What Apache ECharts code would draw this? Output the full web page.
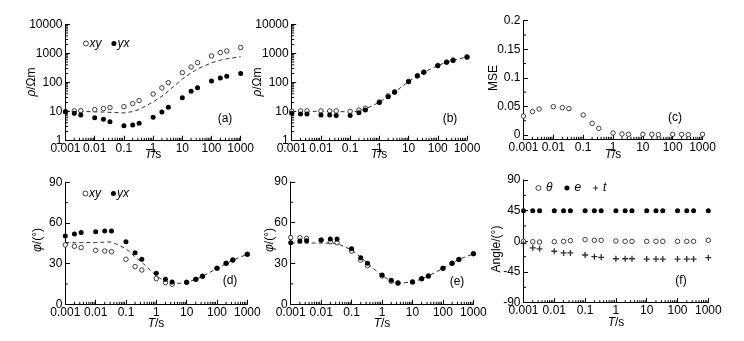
<!DOCTYPE html>
<html><head><meta charset="utf-8">
<script src="https://cdn.jsdelivr.net/npm/echarts@6/dist/echarts.min.js"></script>
<style>html,body{margin:0;padding:0;background:#fff}#c{width:744px;height:341px}</style>
</head><body><div id="c"></div>
<script>
// ---------- data ----------
const periods = [0.001,0.002,0.00333,0.01,0.02,0.0333,0.1,0.2,0.333,1,2,3.33,10,20,33.3,100,200,333,1000];
const xTickLabels = ['0.001','0.01','0.1','1','10','100','1000'];
const rhoTickLabels = ['1','10','100','1000','10000'];
const mseTicks = [0,0.05,0.1,0.15,0.2];
const mseTickLabels = ['0','0.05','0.1','0.15','0.2'];
const panelLabels = ['(a)','(b)','(c)','(d)','(e)','(f)'];
const yTitles = ['{i|ρ}/Ωm','{i|ρ}/Ωm','MSE','{i|φ}/(°)','{i|φ}/(°)','Angle/(°)'];
const xTitle = '{i|T}/s';
const legendRho = ['xy','yx'];
const legendAngle = ['θ','e','t'];

// (a) apparent resistivity
const rhoXyA = [9.7,10.3,10.5,11.4,12.4,13.4,14.5,18.4,23.4,39.5,64,97,215,337,476,810,1060,1200,1580];
const rhoYxA = [9.7,8.5,7.5,6.0,5.3,4.4,3.2,3.4,3.9,6.2,9.5,13.8,29.5,49,65,111,140,161,203];
const rhoModelA = [10,10,10,9.6,9.4,9.2,8.8,9.8,11.5,21,33,50,130,210,290,470,580,640,760];
// (b) resistivity after correction
const rhoXyB = [10,10.3,10.3,10.3,10.3,10.3,10,11,12.7,21,34,47,108,170,225,380,500,590,760];
const rhoYxB = [8.5,8.1,8.1,7.5,7.5,7.1,7.1,9,11,20,32,45,105,165,220,375,490,570,730];
const rhoModelB = [10,10,10,10,10,10,9.4,10.2,12,20.5,33,46,106,167,222,378,495,580,745];
// (c) MSE
const mse = [0.033,0.041,0.0455,0.0496,0.0478,0.0461,0.035,0.0204,0.0117,0.0035,0.0017,0.0012,0.0012,0.0012,0.0006,0.0012,0.0012,0.0006,0.0012];
// (d) phase
const phXyD = [43.8,42.8,41.8,39.8,39.3,38.8,33.2,27.8,25.3,18.9,16.0,14.8,16.2,18.4,20.7,26.6,30.2,32.7,36.9];
const phYxD = [50.4,51.9,52.9,53.6,54.1,54.1,46.2,38.1,33.2,22.9,18.4,16.5,16.2,18.4,20.7,26.6,30.2,32.7,36.9];
const phModelD = [45.5,45.5,45.5,45.6,45.8,46,41,35,31,21,16.5,15,16,18.5,20.5,26.5,30,32.5,37];
// (e) phase after correction
const phXyE = [49.1,48.9,48.4,47.2,46,45.2,39.1,32.5,28.4,20.8,16.9,15.4,16.4,18.8,20.8,26.4,30.1,33.0,37.2];
const phYxE = [45.2,46.5,46.7,47.2,47.9,47.9,40.8,34.2,30.1,21.5,17.6,15.9,16.4,18.8,20.8,26.4,30.1,33.0,37.2];
const phModelE = [45,45,45,45,44.9,44.7,40,34.5,30,21,17,15.5,16.3,18.7,20.8,26.4,30,33,37];
// (f) decomposition angles
const angTheta = [0,-0.5,-1,-0.5,0,1,2.5,1.5,1.5,0.5,0,0,0,0,0,0,0,0,1.5];
const angE = [45,45,45,45,45,45,45,45,45,45,45,45,45,45,45,45,45,45,45];
const angT = [-3,-9.5,-11,-14.5,-17,-17,-20,-22.5,-23.5,-25.5,-25.5,-25.5,-26,-26,-26,-26,-26,-26,-24];

// ---------- helpers ----------
const FONT = 'Liberation Sans, Arial, sans-serif';
const pair = (ys) => periods.map((t, i) => [t, ys[i]]);
function logMinor(e0, e1) { const r = []; for (let e = e0; e < e1; e++) for (let k = 2; k <= 9; k++) r.push(+(k * Math.pow(10, e)).toPrecision(3)); return r; }
function linMinor(a, b, step, major) { const r = []; for (let v = a; v <= b + 1e-9; v += step) { if (Math.abs((v - a) / major - Math.round((v - a) / major)) > 1e-6) r.push(+v.toFixed(6)); } return r; }

const grids = [
  {left: 65.5, top: 24.3, width: 175.2, height: 116},
  {left: 291.7, top: 24.3, width: 175.3, height: 116},
  {left: 523.5, top: 20.7, width: 179, height: 118.6},
  {left: 65.3, top: 182.3, width: 182, height: 122},
  {left: 290.7, top: 181.8, width: 182.7, height: 122.5},
  {left: 523.5, top: 180, width: 184.8, height: 122.7}
];
// title centres
const yTitlePos = [[32, 82], [258, 82], [494, 78], [38, 240], [270, 240], [497, 249]];
const xTitlePos = [[153, 155], [379, 155], [613, 155], [156, 323.5], [382, 323.5], [616, 322.5]];
const panelLabelPos = [[225, 119], [450, 119], [675, 118], [230, 281], [457, 282], [681, 281]];

const axisBase = {
  axisLine: {show: true, onZero: false, lineStyle: {color: '#000', width: 1}},
  axisTick: {show: true, inside: true, length: 4.5, lineStyle: {color: '#000', width: 1}},
  splitLine: {show: false},
  axisLabel: {color: '#000', fontSize: 12, fontFamily: FONT}
};

function xLog(gi) {
  return Object.assign({}, axisBase, {
    type: 'log', logBase: 10, gridIndex: gi, min: 0.001, max: 1000, splitNumber: 6,
    axisLabel: Object.assign({}, axisBase.axisLabel, {margin: 2,
      formatter: v => xTickLabels[Math.round(Math.log10(v)) + 3] || ''})
  });
}
function yAxisOf(gi, opts) {
  return Object.assign({}, axisBase, {gridIndex: gi}, opts,
    {axisLabel: Object.assign({}, axisBase.axisLabel, {margin: 3}, opts.axisLabel || {})});
}

function tickSeries(gi, axis, values, ref, len) {
  return {
    type: 'custom', xAxisIndex: gi, yAxisIndex: gi, silent: true, clip: false, z: 3,
    encode: {x: 0, y: 1},
    data: values.map(v => axis === 'x' ? [v, ref] : [ref, v]),
    renderItem: function (params, api) {
      const cs = params.coordSys;
      const p = api.coord([api.value(0), api.value(1)]);
      let shape;
      if (axis === 'x') { const y0 = cs.y + cs.height; shape = {x1: p[0], y1: y0, x2: p[0], y2: y0 - len}; }
      else { const x0 = cs.x; shape = {x1: x0, y1: p[1], x2: x0 + len, y2: p[1]}; }
      return {type: 'line', shape: shape, style: {stroke: '#000', lineWidth: 1}};
    }
  };
}

const openSym = (gi, name, ys) => ({type: 'scatter', name: name, xAxisIndex: gi, yAxisIndex: gi, data: pair(ys),
  symbol: 'circle', symbolSize: 4.5, itemStyle: {color: '#fff', borderColor: '#111', borderWidth: 0.8, opacity: 1}, z: 4});
const fillSym = (gi, name, ys) => ({type: 'scatter', name: name, xAxisIndex: gi, yAxisIndex: gi, data: pair(ys),
  symbol: 'circle', symbolSize: 5, itemStyle: {color: '#000', opacity: 1}, z: 5});
const model = (gi, ys) => ({type: 'line', name: 'model', xAxisIndex: gi, yAxisIndex: gi, data: pair(ys),
  showSymbol: false, symbol: 'none', lineStyle: {color: '#333', width: 1, type: [4, 3]}, z: 3});
const plusPath = 'path://M3.9,0L6.1,0L6.1,3.9L10,3.9L10,6.1L6.1,6.1L6.1,10L3.9,10L3.9,6.1L0,6.1L0,3.9L3.9,3.9Z';

const xMinor = logMinor(-3, 3);
const rhoMinor = logMinor(0, 4);
const legendTextTight = {fontSize: 12, fontStyle: 'italic', fontFamily: FONT, color: '#000', padding: [0, 0, 0, -4]};
const legendText = {fontSize: 12, fontStyle: 'italic', fontFamily: FONT, color: '#000'};
const legendItems = (names) => names.map(n => ({name: n, itemStyle: {borderWidth: 0.8}}));
const richI = {i: {fontStyle: 'italic', fontSize: 12, fontFamily: FONT, fill: '#000'}};

const graphics = [];
panelLabelPos.forEach((p, i) => graphics.push({type: 'text', x: p[0], y: p[1], z: 10,
  style: {text: panelLabels[i], fill: '#000', font: '12px ' + FONT, textAlign: 'center', textVerticalAlign: 'middle'}}));
yTitlePos.forEach((p, i) => graphics.push({type: 'text', x: p[0], y: p[1], rotation: Math.PI / 2, z: 10,
  style: {text: yTitles[i], fill: '#000', font: '12px ' + FONT, textAlign: 'center', textVerticalAlign: 'middle', rich: richI}}));
xTitlePos.forEach((p) => graphics.push({type: 'text', x: p[0], y: p[1], z: 10,
  style: {text: xTitle, fill: '#000', font: '12px ' + FONT, textAlign: 'center', textVerticalAlign: 'middle', rich: richI}}));

const option = {
  animation: false,
  backgroundColor: '#fff',
  textStyle: {fontFamily: FONT},
  grid: grids.map(g => Object.assign({containLabel: false, outerBoundsMode: 'none'}, g)),
  xAxis: [0,1,2,3,4,5].map(xLog),
  yAxis: [
    yAxisOf(0, {type: 'log', logBase: 10, min: 1, max: 10000, splitNumber: 4,
      axisLabel: {formatter: v => rhoTickLabels[Math.round(Math.log10(v))] || ''}}),
    yAxisOf(1, {type: 'log', logBase: 10, min: 1, max: 10000, splitNumber: 4,
      axisLabel: {formatter: v => rhoTickLabels[Math.round(Math.log10(v))] || ''}}),
    yAxisOf(2, {type: 'value', min: -0.0075, max: 0.2,
      axisTick: Object.assign({}, axisBase.axisTick, {customValues: mseTicks}),
      axisLabel: {customValues: mseTicks, formatter: v => mseTickLabels[mseTicks.findIndex(m => Math.abs(m - v) < 1e-6)] || ''}}),
    yAxisOf(3, {type: 'value', min: 0, max: 90, interval: 30}),
    yAxisOf(4, {type: 'value', min: 0, max: 90, interval: 30}),
    yAxisOf(5, {type: 'value', min: -90, max: 90, interval: 45})
  ],
  legend: [
    {left: 83, top: 37.5, padding: 0, itemWidth: 5, itemHeight: 5, itemGap: 10, data: legendItems(legendRho), textStyle: legendTextTight},
    {left: 82.5, top: 187.5, padding: 0, itemWidth: 5, itemHeight: 5, itemGap: 10, data: legendItems(legendRho), textStyle: legendTextTight},
    {left: 535.5, top: 182, padding: 0, itemWidth: 5, itemHeight: 5, itemGap: 12, data: legendItems(legendAngle), textStyle: legendText}
  ],
  graphic: graphics,
  series: [
    model(0, rhoModelA), openSym(0, 'xy', rhoXyA), fillSym(0, 'yx', rhoYxA),
    model(1, rhoModelB), openSym(1, 'xy', rhoXyB), fillSym(1, 'yx', rhoYxB),
    openSym(2, 'mse', mse),
    model(3, phModelD), openSym(3, 'xy', phXyD), fillSym(3, 'yx', phYxD),
    model(4, phModelE), openSym(4, 'xy', phXyE), fillSym(4, 'yx', phYxE),
    openSym(5, 'θ', angTheta), fillSym(5, 'e', angE),
    {type: 'scatter', name: 't', xAxisIndex: 5, yAxisIndex: 5, data: pair(angT), symbol: plusPath, symbolSize: 6,
      itemStyle: {color: '#000'}, z: 5},
    tickSeries(0, 'x', xMinor, 1, 2.5), tickSeries(0, 'y', rhoMinor, 0.001, 2.5),
    tickSeries(1, 'x', xMinor, 1, 2.5), tickSeries(1, 'y', rhoMinor, 0.001, 2.5),
    tickSeries(2, 'x', xMinor, 0, 2.5), tickSeries(2, 'y', [0.025, 0.075, 0.125, 0.175], 0.001, 2.5),
    tickSeries(3, 'x', xMinor, 0, 2.5), tickSeries(3, 'y', linMinor(0, 90, 15, 30), 0.001, 2.5),
    tickSeries(4, 'x', xMinor, 0, 2.5), tickSeries(4, 'y', linMinor(0, 90, 15, 30), 0.001, 2.5),
    tickSeries(5, 'x', xMinor, 0, 2.5), tickSeries(5, 'y', linMinor(-90, 90, 22.5, 45), 0.001, 2.5)
  ]
};
const chart = echarts.init(document.getElementById('c'), null, {renderer: 'canvas'});
chart.setOption(option);
</script>
</body></html>
